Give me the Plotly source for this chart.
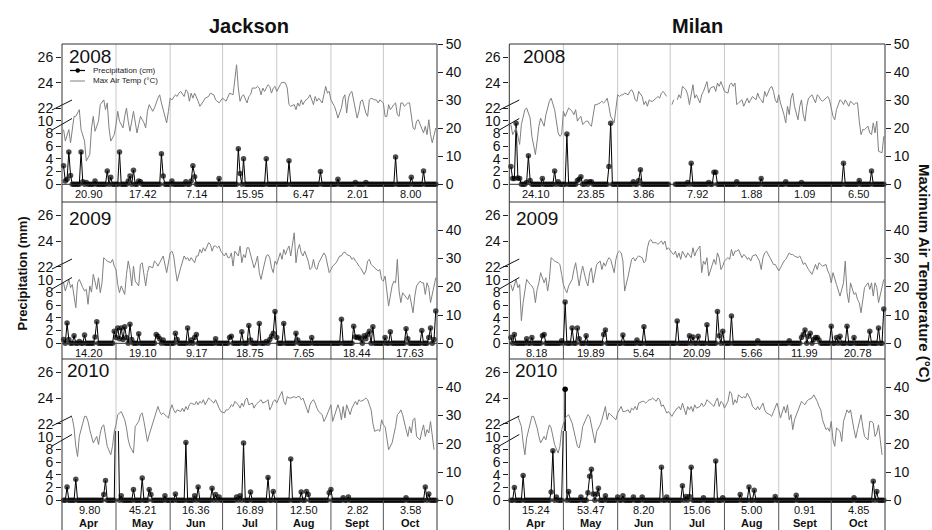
import plotly.graph_objects as go

W, H = 932, 530
N_DAYS = 214                      # 1 April .. 31 October
MONTHS = ["Apr", "May", "Jun", "Jul", "Aug", "Sept", "Oct"]
MONTH_START = [0, 30, 61, 91, 122, 153, 183]
SITES = ["Jackson", "Milan"]
YEARS = ["2008", "2009", "2010"]

# ---------------- monthly precipitation totals ----------------
jackson_2008_totals = [20.90, 17.42, 7.14, 15.95, 6.47, 2.01, 8.00]
jackson_2009_totals = [14.20, 19.10, 9.17, 18.75, 7.65, 18.44, 17.63]
jackson_2010_totals = [9.80, 45.21, 16.36, 16.89, 12.50, 2.82, 3.58]
milan_2008_totals = [24.10, 23.85, 3.86, 7.92, 1.88, 1.09, 6.50]
milan_2009_totals = [8.18, 19.89, 5.64, 20.09, 5.66, 11.99, 20.78]
milan_2010_totals = [15.24, 53.47, 8.20, 15.06, 5.00, 0.91, 4.85]

# ---------------- max air temperature (deg C) ----------------
# days (0 = 1 April) at which the temperature line was read
temp_days = [
    0, 1, 3, 4, 5, 6, 7, 8, 9, 11,
    12, 13, 14, 15, 16, 17, 19, 20, 21, 22,
    23, 24, 25, 27, 28, 29, 30, 31, 32, 33,
    35, 36, 37, 38, 39, 40, 41, 43, 44, 45,
    46, 47, 48, 49, 51, 52, 53, 54, 55, 56,
    57, 59, 60, 61, 62, 63, 64, 65, 67, 68,
    69, 70, 71, 72, 73, 75, 76, 77, 78, 79,
    80, 81, 83, 84, 85, 86, 87, 88, 89, 90,
    92, 93, 94, 95, 96, 97, 98, 100, 101, 102,
    103, 104, 105, 106, 108, 109, 110, 111, 112, 113,
    114, 116, 117, 118, 119, 120, 121, 122, 124, 125,
    126, 127, 128, 129, 130, 132, 133, 134, 135, 136,
    137, 138, 140, 141, 142, 143, 144, 145, 146, 148,
    149, 150, 151, 152, 153, 154, 156, 157, 158, 159,
    160, 161, 162, 164, 165, 166, 167, 168, 169, 170,
    172, 173, 174, 175, 176, 177, 178, 180, 181, 182,
    183, 184, 185, 186, 188, 189, 190, 191, 192, 193,
    194, 196, 197, 198, 199, 200, 201, 202, 204, 205,
    206, 207, 208, 209, 210, 212, 213]

jackson_2008_temp_days = [
    0, 1, 3, 4, 6, 7, 9, 10, 12, 13,
    15, 16, 17, 18, 20, 21, 23, 24, 25, 26,
    27, 29, 30, 31, 32, 34, 35, 36, 37, 38,
    40, 41, 42, 43, 44, 46, 47, 48, 49, 51,
    52, 54, 55, 56, 57, 59, 60, 61, 62, 64,
    65, 66, 67, 69, 70, 71, 72, 73, 74, 75,
    77, 78, 80, 81, 83, 84, 86, 87, 89, 90,
    91, 93, 94, 95, 97, 98, 99, 100, 101, 102,
    103, 105, 106, 107, 108, 110, 111, 112, 113, 114,
    115, 117, 118, 119, 120, 121, 122, 124, 125, 127,
    128, 129, 130, 132, 133, 134, 135, 136, 137, 138,
    140, 141, 142, 143, 144, 145, 146, 148, 149, 150,
    151, 152, 153, 155, 156, 157, 159, 160, 161, 162,
    163, 164, 165, 167, 168, 169, 170, 171, 173, 174,
    175, 176, 178, 179, 180, 181, 183, 184, 185, 186,
    187, 189, 190, 191, 192, 193, 194, 195, 197, 198,
    199, 200, 201, 202, 203, 205, 206, 207, 208, 209,
    210, 211, 212, 213]
jackson_2008_temp = [
    19.5, 15.4, 19.5, 14.8, 24.2, 24.2, 26.6, 19.5, 15.4, 8.3,
    10.6, 20.1, 24.2, 18.9, 22.5, 28.4, 30.1, 26.6, 29.0, 20.1,
    15.4, 17.7, 21.3, 26.0, 22.5, 20.1, 24.2, 27.2, 22.5, 18.9,
    26.0, 22.5, 18.3, 21.3, 24.2, 21.9, 20.1, 26.0, 28.4, 26.0,
    27.2, 30.7, 31.9, 29.0, 26.6, 21.9, 26.0, 30.7, 30.1, 31.9,
    31.3, 32.5, 33.1, 31.3, 33.7, 33.1, 29.6, 32.5, 30.7, 32.5,
    29.6, 27.8, 29.6, 30.7, 31.3, 32.5, 31.9, 30.1, 29.0, 30.1,
    30.7, 29.6, 31.3, 32.5, 31.9, 36.6, 42.6, 34.3, 29.6, 31.3,
    31.9, 29.0, 31.3, 31.9, 34.3, 34.3, 34.9, 34.3, 31.9, 34.3,
    33.1, 35.5, 34.9, 32.5, 34.3, 34.9, 33.1, 35.5, 36.4, 36.1,
    34.3, 28.4, 27.8, 28.4, 26.6, 29.0, 27.8, 30.1, 28.4, 29.6,
    30.7, 31.9, 30.1, 28.4, 31.3, 29.6, 30.7, 29.0, 31.9, 34.9,
    32.5, 33.1, 30.1, 27.8, 26.0, 23.6, 27.2, 30.7, 31.9, 25.4,
    30.7, 32.5, 33.1, 27.2, 23.6, 26.0, 29.6, 30.1, 25.4, 24.2,
    30.1, 30.7, 30.1, 30.1, 29.0, 30.1, 29.0, 24.2, 24.2, 28.4,
    26.6, 28.4, 29.0, 24.8, 24.2, 29.0, 29.0, 27.8, 29.0, 29.0,
    24.8, 20.1, 19.5, 22.5, 23.0, 20.1, 18.3, 20.7, 17.7, 23.0,
    17.7, 14.8, 17.1, 20.1]

jackson_2009_temp = [
    21.4, 18.5, 22.6, 19.7, 20.8, 17.3, 12.6, 21.4, 22.6, 19.7,
    18.5, 19.1, 13.8, 20.3, 18.1, 24.4, 19.1, 23.2, 17.9, 21.4,
    30.3, 29.7, 29.1, 28.5, 29.7, 27.3, 26.1, 20.8, 17.9, 20.3,
    17.3, 24.4, 29.1, 26.1, 20.3, 27.3, 22.0, 20.3, 27.9, 28.5,
    23.8, 20.3, 25.0, 27.3, 26.7, 29.1, 28.5, 27.3, 28.5, 29.7,
    30.9, 25.0, 29.1, 32.0, 32.6, 30.9, 26.1, 22.0, 26.7, 29.1,
    30.9, 29.7, 30.3, 29.1, 30.3, 28.5, 30.9, 30.9, 33.2, 32.0,
    33.8, 32.6, 35.6, 35.0, 32.6, 34.4, 34.4, 33.8, 34.4, 32.6,
    30.9, 32.0, 30.3, 30.3, 32.0, 27.3, 32.6, 30.9, 34.4, 28.5,
    31.4, 30.3, 33.8, 33.8, 29.1, 26.7, 28.5, 30.9, 25.0, 22.6,
    25.6, 30.9, 31.4, 30.3, 26.7, 25.0, 29.1, 27.9, 32.0, 29.7,
    33.2, 31.4, 33.2, 34.4, 30.9, 39.1, 28.5, 33.2, 35.0, 32.0,
    30.9, 32.6, 29.1, 26.1, 26.7, 29.7, 26.7, 26.1, 28.5, 30.9,
    32.0, 30.9, 27.9, 25.0, 26.1, 27.3, 28.5, 29.7, 30.9, 30.9,
    32.0, 32.3, 31.4, 30.9, 29.7, 30.3, 29.1, 28.5, 27.3, 26.7,
    24.4, 25.6, 29.1, 29.7, 27.9, 27.3, 26.7, 25.6, 26.1, 22.6,
    22.0, 23.8, 18.5, 13.2, 20.3, 22.0, 21.4, 29.7, 18.5, 14.4,
    17.9, 16.1, 15.5, 17.3, 14.4, 10.8, 16.7, 20.3, 22.0, 21.4,
    21.4, 17.3, 21.4, 19.7, 14.4, 19.7, 23.2]

jackson_2010_temp = [
    None, None, None, 29.7, 29.1, 25.6, 19.1, 15.5, 22.6, 27.3,
    29.7, 29.7, 27.9, 25.0, 22.6, 20.3, 22.6, 19.7, 23.8, 26.1,
    26.7, 23.2, 19.1, 16.1, 19.1, 24.4, 26.7, 30.3, 30.9, 31.4,
    28.5, 25.6, 21.4, 19.1, 17.9, 16.7, 26.1, 27.9, 30.3, 30.9,
    27.9, 24.4, 20.8, 23.2, 27.3, 29.1, 32.0, 33.2, 31.4, 30.3,
    30.9, 29.7, 29.1, 32.0, 33.8, 32.0, 30.9, 32.0, 31.4, 32.6,
    31.4, 33.2, 32.0, 33.8, 34.4, 33.8, 35.0, 33.8, 35.0, 34.4,
    35.6, 33.8, 36.2, 35.6, 35.0, 34.4, 35.6, 33.8, 32.6, 31.4,
    30.9, 32.0, 32.0, 32.6, 33.8, 33.2, 35.0, 33.8, 32.6, 34.4,
    33.2, 35.6, 36.2, 33.8, 34.4, 32.6, 33.8, 34.4, 35.0, 35.6,
    34.4, 35.0, 35.6, 32.0, 33.2, 35.0, 35.6, 34.4, 37.3, 38.5,
    35.0, 33.8, 36.7, 36.2, 36.2, 36.7, 36.2, 36.7, 36.7, 35.6,
    36.2, 34.4, 30.9, 33.8, 35.0, 35.6, 34.4, 32.6, 31.4, 30.3,
    27.9, 29.1, 30.9, 32.6, 33.8, 27.9, 32.0, 33.8, 32.0, 28.5,
    33.2, 29.1, 33.8, 30.3, 32.6, 33.8, 35.0, 33.8, 35.6, 35.0,
    35.6, 36.2, 35.6, 33.8, 32.0, 27.3, 24.4, 25.0, 24.4, 28.5,
    26.7, 26.1, 21.4, 17.9, 20.3, 23.2, 26.1, 30.3, 30.9, 32.0,
    30.3, 25.0, 22.6, 26.1, 23.8, 28.5, 29.1, 22.6, 21.4, 24.4,
    26.7, 22.6, 25.0, 23.8, 27.9, 17.9, None]

milan_2008_temp = [
    21.3, 17.7, 20.1, 16.5, 14.2, 21.3, 24.2, 26.6, 27.2, 23.6,
    17.1, 13.0, 10.6, 15.4, 20.7, 23.6, 20.7, 24.8, 27.2, 29.6,
    30.7, 29.0, 26.6, 18.3, 17.1, 17.7, 26.0, 24.2, 26.0, 27.2,
    26.0, 24.8, 26.6, 22.5, 23.6, 24.2, 21.3, 22.5, 22.5, 21.3,
    20.7, 24.8, 28.4, 28.4, 29.0, 29.6, 29.0, 29.6, 30.7, 27.8,
    24.2, 21.9, 27.8, 31.9, 31.3, 31.9, 31.9, 32.5, 31.9, 33.1,
    33.7, 32.5, 30.1, 29.6, 33.1, 31.3, 28.4, 29.6, 27.8, 30.1,
    29.6, 29.6, 30.7, 31.3, 30.7, 32.5, 33.1, 32.2, 31.3, None,
    28.4, 30.1, None, 30.1, 31.9, 30.7, 34.9, 33.7, 31.9, 28.4,
    32.5, 35.5, 30.7, 31.9, 29.0, 31.9, 33.1, 34.9, 36.6, 32.5,
    34.3, 34.9, 33.1, 36.1, 34.9, 36.6, 34.9, 33.1, 32.5, 35.5,
    36.1, 34.9, 36.1, 28.4, 29.0, 30.1, 27.8, 29.6, 30.7, 29.0,
    30.1, 31.3, 30.1, 32.5, 30.7, 30.1, 29.0, 33.1, 31.3, 34.3,
    34.9, 33.1, 30.1, 29.0, 31.9, 29.0, 24.8, 21.9, 27.8, 24.8,
    30.7, 32.5, 27.8, 23.0, 27.8, 30.1, 24.8, 22.5, 27.8, 30.7,
    31.9, 30.7, 29.0, 31.9, 31.3, 30.1, 29.6, 30.7, 31.3, 30.1,
    27.2, 24.2, 23.0, 26.6, 30.1, 29.6, 28.4, 30.1, 29.0, 27.8,
    29.6, 28.4, 29.0, 29.0, 22.5, 17.7, 19.5, 19.5, 20.7, 18.3,
    17.7, 21.9, 18.3, 22.5, 11.8, 11.2, 17.1]

milan_2009_temp = [
    20.8, 18.5, 22.6, 19.7, 20.8, 8.0, 14.4, 18.5, 22.6, 20.8,
    20.3, 19.1, 14.4, 19.1, 21.4, 25.0, 21.4, 23.2, 18.5, 22.6,
    30.3, 29.7, 29.1, 28.5, 27.9, 24.4, 20.8, 19.1, 17.9, 20.3,
    22.6, 26.1, 28.5, 24.4, 20.3, 24.4, 27.3, 22.0, 20.3, 25.0,
    26.7, 21.4, 24.4, 27.9, 29.1, 26.1, 28.5, 27.3, 29.1, 30.3,
    29.7, 25.0, 29.7, 32.0, 32.6, 32.0, 29.1, 18.5, 23.8, 27.3,
    29.7, 30.3, 29.1, 30.3, 30.9, 30.3, 28.5, 29.1, 33.8, 36.2,
    36.7, 35.6, 35.6, 35.0, 35.6, 36.2, 35.0, 36.2, 33.2, 33.8,
    32.0, 31.4, 32.6, 30.3, 32.0, 29.7, 32.6, 30.3, 32.0, 30.9,
    30.3, 33.8, 30.9, 32.6, 34.4, 25.0, 29.1, 27.9, 30.3, 23.8,
    26.1, 29.7, 27.9, 32.0, 30.3, 26.1, 27.3, 29.1, 30.3, 29.7,
    33.2, 30.9, 32.6, 32.6, 33.2, 30.3, 31.4, 30.9, 29.7, 30.3,
    29.1, 30.9, 31.4, 30.3, 29.1, 26.1, 30.3, 32.0, 32.6, 30.3,
    29.1, 27.9, 27.9, 26.7, 25.6, 26.7, 29.1, 29.7, 30.9, 32.0,
    31.4, 31.4, 30.9, 30.3, 30.9, 29.7, 27.9, 28.5, 27.3, 26.1,
    24.4, 26.1, 27.9, 26.1, 28.5, 27.9, 27.3, 27.9, 25.6, 24.4,
    21.4, 25.0, 22.6, 20.8, 16.7, 19.1, 21.4, 29.1, 17.9, 14.4,
    21.4, 17.3, 17.9, 15.5, 14.4, 10.8, 15.5, 19.7, 21.4, 19.1,
    21.4, 16.7, 21.4, 19.7, 14.4, 19.7, 22.6]

milan_2010_temp = [
    None, None, None, 29.7, 27.9, 26.1, 20.3, 16.1, 22.0, 26.7,
    29.7, 29.7, 27.9, 25.6, 22.6, 20.3, 22.6, 21.4, 24.4, 26.7,
    25.6, 22.6, 19.7, 16.7, 19.1, 25.0, 26.7, 29.1, 29.7, 30.3,
    27.3, 24.4, 20.8, 19.1, 18.5, 21.4, 26.1, 29.1, 30.3, 29.7,
    26.1, 22.6, 20.3, 24.4, 26.7, 28.5, 30.9, 33.2, 28.5, 30.9,
    30.3, 29.1, 28.5, 30.9, 32.0, 33.2, 31.4, 31.4, 32.0, 30.9,
    32.6, 32.0, 33.2, 32.0, 34.4, 35.0, 35.0, 34.4, 35.0, 35.6,
    35.6, 36.2, 35.0, 36.2, 35.6, 33.2, 33.8, 32.0, 30.9, 31.4,
    29.7, 30.9, 32.0, 32.6, 33.2, 32.0, 34.4, 30.3, 33.2, 32.0,
    33.2, 31.4, 33.8, 32.6, 33.2, 34.4, 33.2, 33.8, 35.6, 35.0,
    34.4, 33.2, 35.0, 36.2, 33.2, 35.0, 34.4, 32.6, 35.0, 38.5,
    37.9, 33.8, 35.6, 34.4, 37.3, 36.2, 36.7, 36.2, 37.9, 36.7,
    35.6, 33.2, 32.0, 33.2, 32.0, 33.2, 34.4, 32.0, 30.9, 30.3,
    29.7, 31.4, 33.2, 34.4, 32.0, 29.1, 33.2, 30.9, 33.8, 28.5,
    30.3, 25.0, 28.5, 32.0, 33.2, 35.0, 34.4, 33.8, 35.0, 35.6,
    36.2, 37.3, 36.2, 35.0, 33.2, 32.0, 28.5, 25.0, 25.6, 24.4,
    27.9, 21.4, 19.1, 25.6, 24.4, 20.8, 27.9, 30.3, 32.0, 30.9,
    32.0, 25.0, 22.0, 25.0, 27.3, 30.3, 26.1, 22.6, 21.4, 27.9,
    27.9, 27.3, 22.6, 23.8, 26.7, 16.1, None]

# ---------------- daily precipitation: rain days and amounts (mm) ----------------
jackson_2008_rain_days = [0, 1, 2, 3, 4, 10, 11, 13, 18, 25, 27, 32, 37, 38, 40, 43, 44, 56, 57, 62,
                          70, 73, 74, 75, 89, 100, 101, 103, 116, 129, 147, 157, 167, 173, 190, 199, 206]
jackson_2008_rain = [2.9, 0.5, 0.8, 5.1, 1.4, 5.1, 0.4, 0.3, 0.5, 2.1, 1.1, 5.1, 0.5, 1.3, 2.2, 0.5, 0.4, 4.8, 1.3, 0.5,
                     0.4, 0.5, 2.9, 1.2, 0.9, 5.6, 1.7, 4.0, 4.0, 3.7, 2.0, 0.8, 0.3, 0.3, 4.3, 1.1, 2.1]

jackson_2009_rain_days = [0, 2, 3, 6, 9, 12, 18, 19, 29, 30, 31, 32, 33, 34, 35, 36, 38, 39, 43, 53,
                          54, 55, 57, 64, 65, 71, 73, 75, 76, 87, 95, 96, 102, 106, 107, 112, 116, 118, 119, 120,
                          121, 122, 126, 133, 134, 142, 159, 166, 167, 168, 169, 170, 172, 173, 174, 175, 177, 184, 187, 196,
                          197, 205, 209, 210, 212, 213]
jackson_2009_rain = [0.6, 3.2, 0.6, 1.2, 0.3, 1.3, 1.0, 3.4, 1.9, 0.9, 2.4, 0.7, 2.4, 0.6, 2.6, 0.9, 3.0, 0.6, 1.5, 1.4,
                     1.1, 0.7, 0.5, 1.6, 0.6, 2.4, 0.5, 0.9, 1.4, 0.7, 0.9, 1.1, 1.8, 2.8, 0.5, 3.1, 0.3, 0.6, 1.1, 1.6,
                     5.0, 0.9, 3.1, 1.6, 0.5, 0.9, 3.8, 2.7, 1.0, 0.9, 1.0, 0.7, 1.2, 0.7, 1.4, 1.9, 2.6, 0.9, 1.8, 2.3,
                     0.7, 2.0, 0.9, 2.4, 0.6, 5.1]

jackson_2010_rain_days = [2, 7, 23, 24, 30, 31, 33, 40, 45, 49, 50, 58, 64, 70, 75, 77, 85, 87, 89, 99,
                          101, 103, 107, 117, 120, 130, 136, 139, 140, 152, 153, 160, 163, 196, 207, 209]
jackson_2010_rain = [2.1, 3.3, 0.9, 3.1, 19.0, 17.0, 0.7, 1.7, 3.5, 1.7, 0.9, 0.7, 1.0, 9.1, 0.7, 2.1, 1.9, 0.9, 0.5, 0.5,
                     0.7, 9.0, 1.3, 3.6, 1.4, 6.5, 1.3, 1.4, 0.9, 1.2, 1.7, 0.4, 0.5, 0.4, 2.1, 1.0]

milan_2008_rain_days = [0, 1, 2, 3, 4, 5, 9, 10, 11, 18, 25, 27, 32, 38, 39, 40, 43, 45, 46, 56,
                        57, 70, 73, 74, 101, 103, 113, 116, 117, 129, 143, 157, 166, 190, 199, 206]
milan_2008_rain = [2.8, 0.9, 0.9, 9.6, 1.0, 0.9, 0.3, 4.5, 0.6, 0.9, 2.1, 0.4, 7.9, 0.6, 0.8, 1.2, 0.4, 0.4, 0.4, 2.8,
                   9.6, 0.4, 0.6, 2.3, 0.3, 3.3, 0.3, 1.9, 1.9, 0.4, 0.9, 0.4, 0.3, 3.3, 0.6, 2.1]
milan_2008_missing_days = [91, 92, 93]

milan_2009_rain_days = [0, 2, 9, 12, 18, 19, 29, 31, 35, 38, 39, 43, 53, 54, 64, 72, 76, 95, 102, 104,
                        107, 112, 118, 119, 121, 126, 141, 159, 166, 167, 168, 170, 171, 173, 174, 175, 176, 183, 186, 188,
                        192, 196, 205, 210, 213]
milan_2009_rain = [0.9, 1.4, 0.7, 0.9, 1.2, 1.4, 0.4, 6.5, 2.4, 2.4, 0.7, 1.2, 1.4, 2.1, 1.3, 0.5, 2.6, 3.5, 1.2, 1.0,
                   1.1, 2.9, 5.0, 1.2, 1.9, 4.3, 0.4, 0.4, 0.9, 1.4, 2.1, 1.1, 1.6, 0.6, 0.9, 0.9, 0.5, 2.7, 0.9, 1.1,
                   2.7, 0.9, 1.9, 2.4, 5.4]

milan_2010_rain_days = [2, 7, 23, 24, 26, 30, 31, 33, 40, 44, 45, 46, 47, 49, 50, 54, 61, 64, 70, 75,
                        86, 89, 98, 100, 102, 103, 110, 117, 121, 131, 136, 139, 151, 163, 196, 207, 209]
milan_2010_rain = [2.0, 3.9, 1.3, 7.8, 0.5, 12.0, 24.7, 1.4, 0.5, 1.2, 3.8, 4.9, 1.0, 1.0, 1.9, 0.7, 0.5, 0.7, 0.5, 0.5,
                   5.2, 0.5, 2.3, 0.6, 0.6, 5.2, 0.4, 6.2, 0.4, 0.9, 2.1, 1.6, 0.6, 0.8, 0.4, 3.0, 1.4]

# ---------------- geometry / style ----------------
FONT = "Liberation Sans, Arial, sans-serif"
COL_L = [62.0, 509.3]
COL_R = [437.0, 885.0]
ROW_TOP = [44.0, 202.0, 359.0]
ROW_ZERO = [184.3, 343.3, 500.3]
LOW_H = 69.3
LOW_RANGE = [0, 10.9]
UP_RANGE = [21.45, 27.05]
TEMP_RANGE = [0, 50]
X_RANGE = [-0.9, 213.7]
YEAR_POS = {(0, 0): (66.5, 56.7), (1, 0): (521.0, 56.7), (0, 1): (66.5, 218.0),
            (1, 1): (514.0, 218.0), (0, 2): (65.0, 370.0), (1, 2): (513.0, 370.0)}
FRAME = "#333333"
GRID = "#c8c8c8"
SEP = "#555555"
TEMP_COLOR = "#808080"
TXT = "#111111"


def fx(v):
    return v / W


def fy(v):
    return 1 - v / H


def daily(days, amounts, missing=()):
    series = [0.0] * N_DAYS
    for d, a in zip(days, amounts):
        series[d] = a
    for d in missing:
        series[d] = None
    return series


panels = [
    dict(col=0, row=0, tday=jackson_2008_temp_days, temp=jackson_2008_temp,
         rday=jackson_2008_rain_days, rain=jackson_2008_rain, totals=jackson_2008_totals, missing=[]),
    dict(col=1, row=0, tday=temp_days, temp=milan_2008_temp,
         rday=milan_2008_rain_days, rain=milan_2008_rain, totals=milan_2008_totals, missing=milan_2008_missing_days),
    dict(col=0, row=1, tday=temp_days, temp=jackson_2009_temp,
         rday=jackson_2009_rain_days, rain=jackson_2009_rain, totals=jackson_2009_totals, missing=[]),
    dict(col=1, row=1, tday=temp_days, temp=milan_2009_temp,
         rday=milan_2009_rain_days, rain=milan_2009_rain, totals=milan_2009_totals, missing=[]),
    dict(col=0, row=2, tday=temp_days, temp=jackson_2010_temp,
         rday=jackson_2010_rain_days, rain=jackson_2010_rain, totals=jackson_2010_totals, missing=[]),
    dict(col=1, row=2, tday=temp_days, temp=milan_2010_temp,
         rday=milan_2010_rain_days, rain=milan_2010_rain, totals=milan_2010_totals, missing=[]),
]


def xref(n):
    return "x" if n == 1 else f"x{n}"


def yref(n):
    return "y" if n == 1 else f"y{n}"


def xkey(n):
    return "xaxis" if n == 1 else f"xaxis{n}"


def ykey(n):
    return "yaxis" if n == 1 else f"yaxis{n}"


def text(x, y, s, size, xanchor="center", yanchor="middle", angle=0, color=TXT, xr="paper"):
    return dict(x=x, y=y, xref=xr, yref="paper", text=s, showarrow=False, xanchor=xanchor,
                yanchor=yanchor, textangle=angle, font=dict(family=FONT, size=size, color=color))


fig = go.Figure()
layout_axes = {}
shapes = []
annotations = []
tickfont = dict(family=FONT, size=14, color=TXT)
days_all = list(range(N_DAYS))

bounds = [X_RANGE[0]] + MONTH_START[1:] + [X_RANGE[1]]
centers = [(bounds[i] + bounds[i + 1]) / 2 for i in range(len(MONTHS))]

for i, p in enumerate(panels):
    n = i + 1
    c, r = p["col"], p["row"]
    L, R = COL_L[c], COL_R[c]
    top, zero = ROW_TOP[r], ROW_ZERO[r]
    split = zero - LOW_H
    xa = xref(n)
    yl, yu, yt = 3 * i + 1, 3 * i + 2, 3 * i + 3

    rain = daily(p["rday"], p["rain"], p["missing"])
    sizes = [5.5 if (v is not None and v <= LOW_RANGE[1]) else 0 for v in rain]

    # precipitation on the lower (0-10) part of the broken axis
    fig.add_trace(go.Scatter(x=days_all, y=rain, xaxis=xa, yaxis=yref(yl), mode="lines+markers",
                             line=dict(color="black", width=1),
                             marker=dict(size=sizes, color="black", line=dict(width=0)),
                             cliponaxis=False, connectgaps=False, showlegend=False, hoverinfo="skip"))
    # precipitation on the upper (22-26) part of the broken axis
    fig.add_trace(go.Scatter(x=days_all, y=rain, xaxis=xa, yaxis=yref(yu), mode="lines+markers",
                             line=dict(color="black", width=1),
                             marker=dict(size=5.5, color="black", line=dict(width=0)),
                             cliponaxis=True, connectgaps=False, showlegend=False, hoverinfo="skip"))
    # max air temperature (right axis)
    fig.add_trace(go.Scatter(x=p["tday"], y=p["temp"], xaxis=xa, yaxis=yref(yt), mode="lines",
                             line=dict(color=TEMP_COLOR, width=1), connectgaps=False,
                             showlegend=False, hoverinfo="skip"))

    layout_axes[xkey(n)] = dict(domain=[fx(L), fx(R)], range=X_RANGE, anchor=yref(yl),
                                visible=False, fixedrange=True)
    common = dict(anchor=xa, ticks="outside", ticklen=5, tickwidth=1, tickcolor="#222222",
                  showgrid=False, zeroline=False, showline=False, tickfont=tickfont,
                  automargin=False, fixedrange=True)
    layout_axes[ykey(yl)] = dict(domain=[fy(zero), fy(split)], range=LOW_RANGE,
                                 tickvals=[0, 2, 4, 6, 8, 10], side="left", **common)
    layout_axes[ykey(yu)] = dict(domain=[fy(split), fy(top)], range=UP_RANGE,
                                 tickvals=[22, 24, 26], side="left", **common)
    tvals = [0, 10, 20, 30, 40, 50] if r == 0 else [0, 10, 20, 30, 40]
    layout_axes[ykey(yt)] = dict(domain=[fy(zero), fy(top)], range=TEMP_RANGE,
                                 tickvals=tvals, side="right", **common)

    # month gridlines inside panel and separators in the totals strip
    bottom = ROW_TOP[r + 1] if r < 2 else H
    for b in MONTH_START[1:]:
        shapes.append(dict(type="line", xref=xa, yref="paper", x0=b, x1=b,
                           y0=fy(zero), y1=fy(top), line=dict(color=GRID, width=1), layer="below"))
        shapes.append(dict(type="line", xref=xa, yref="paper", x0=b, x1=b,
                           y0=fy(bottom), y1=fy(zero), line=dict(color=SEP, width=1)))

    # monthly totals (and month names under the last row)
    for m, tot in enumerate(p["totals"]):
        annotations.append(text(centers[m], fy(zero + 9.5), f"{tot:.2f}", 11, xr=xa))
        if r == 2:
            annotations.append(text(centers[m], fy(523), f"<b>{MONTHS[m]}</b>", 11, xr=xa))

    # year label
    yx, yy = YEAR_POS[(c, r)]
    annotations.append(text(fx(yx), fy(yy), YEARS[r], 19, xanchor="left"))

    # frame lines of the panel
    for yline in (top, zero):
        shapes.append(dict(type="line", xref="paper", yref="paper", x0=fx(L), x1=fx(R),
                           y0=fy(yline), y1=fy(yline), line=dict(color=FRAME, width=1)))

    # axis-break marks
    shapes.append(dict(type="line", xref="paper", yref="paper", x0=fx(L - 10), x1=fx(L + 10),
                       y0=fy(split - 5), y1=fy(split - 15), line=dict(color="#111111", width=1)))
    shapes.append(dict(type="line", xref="paper", yref="paper", x0=fx(L - 10), x1=fx(L + 10),
                       y0=fy(split + 15), y1=fy(split + 3.5), line=dict(color="#111111", width=1)))

# outer vertical borders of each column
for c in range(2):
    for xv in (COL_L[c], COL_R[c]):
        shapes.append(dict(type="line", xref="paper", yref="paper", x0=fx(xv), x1=fx(xv),
                           y0=fy(ROW_TOP[0]), y1=0, line=dict(color=FRAME, width=1)))

# column titles
annotations.append(text(fx(249), fy(26), "<b>Jackson</b>", 20))
annotations.append(text(fx(697.5), fy(26), "<b>Milan</b>", 20))
# axis titles
annotations.append(text(fx(21.5), fy(274), "<b>Precipitation (mm)</b>", 13, angle=-90))
annotations.append(text(fx(925), fy(273), "<b>Maximum Air Temperature (°C)</b>", 15, angle=90))

# legend (Jackson 2008 panel)
shapes.append(dict(type="line", xref="paper", yref="paper", x0=fx(70), x1=fx(85),
                   y0=fy(70.5), y1=fy(70.5), line=dict(color="black", width=1.2)))
shapes.append(dict(type="circle", xref="paper", yref="paper", x0=fx(75.5), x1=fx(80),
                   y0=fy(72.7), y1=fy(68.3), fillcolor="black", line=dict(color="black", width=0)))
shapes.append(dict(type="line", xref="paper", yref="paper", x0=fx(70), x1=fx(85),
                   y0=fy(81), y1=fy(81), line=dict(color=TEMP_COLOR, width=1)))
annotations.append(text(fx(90.5), fy(70.5), "Precipitation (cm)", 8, xanchor="left", color="#222222"))
annotations.append(text(fx(90.5), fy(81), "Max Air Temp (°C)", 8, xanchor="left", color="#222222"))

fig.update_layout(template="none", width=W, height=H, autosize=False,
                  margin=dict(l=0, r=0, t=0, b=0, autoexpand=False),
                  paper_bgcolor="white", plot_bgcolor="rgba(0,0,0,0)", showlegend=False,
                  font=dict(family=FONT, color=TXT),
                  shapes=shapes, annotations=annotations, **layout_axes)

fig.write_html("out.html", config={"displayModeBar": False},
               post_script="document.body.style.margin='0';document.body.style.overflow='hidden';")
